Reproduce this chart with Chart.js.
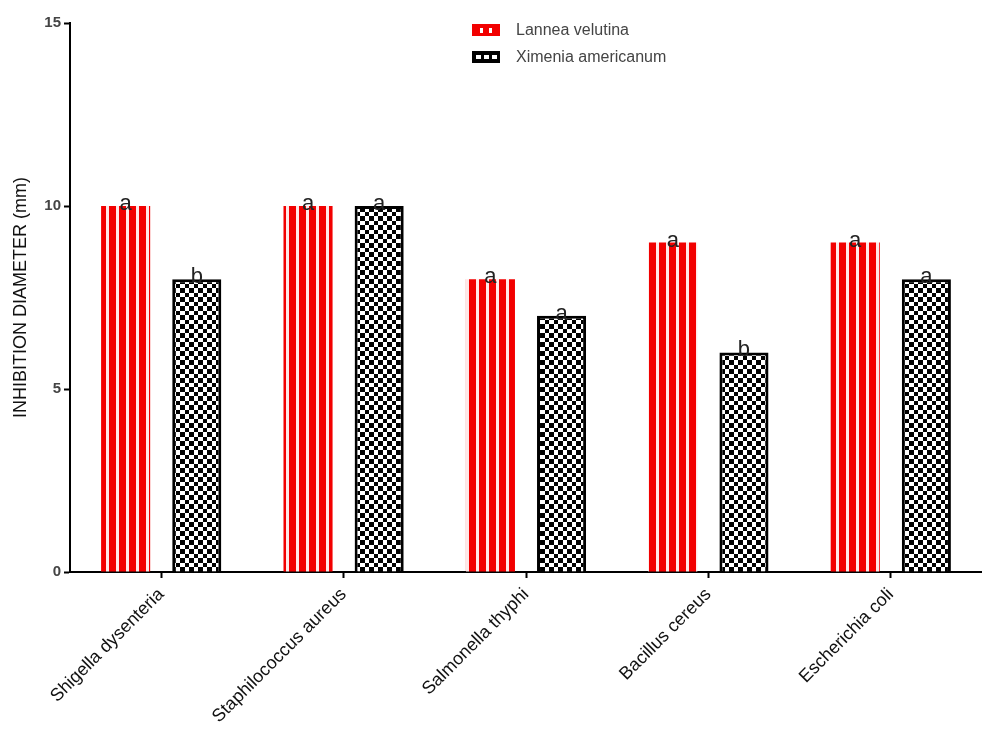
<!DOCTYPE html>
<html>
<head>
<meta charset="utf-8">
<script src="https://cdn.jsdelivr.net/npm/chart.js@4.4.0/dist/chart.umd.min.js"></script>
<style>
  html, body { margin: 0; padding: 0; background: #fff; overflow: hidden; }
  #wrap { position: relative; width: 982px; height: 734px; }
</style>
</head>
<body>
<div id="wrap"><canvas id="chart" width="982" height="734"></canvas></div>
<script>
// data
const categories = ['Shigella dysenteria', 'Staphilococcus aureus', 'Salmonella thyphi', 'Bacillus cereus', 'Escherichia coli'];
const lanneaValues = [10, 10, 8, 9, 9];
const ximeniaValues = [8, 10, 7, 6, 8];
const lanneaLetters = ['a', 'a', 'a', 'a', 'a'];
const ximeniaLetters = ['b', 'a', 'a', 'b', 'a'];
const yTicks = [0, 5, 10, 15];

// red bars with thin pale vertical stripes
function stripePattern() {
    const c = document.createElement('canvas');
    c.width = 10; c.height = 10;
    const g = c.getContext('2d');
    g.fillStyle = '#f20000';
    g.fillRect(0, 0, 10, 10);
    g.fillStyle = '#ffe8e8';
    g.fillRect(6, 0, 3, 10);
    return g.createPattern(c, 'repeat');
}

// black and white checker
function checkerPattern() {
    const c = document.createElement('canvas');
    c.width = 9; c.height = 9;
    const g = c.getContext('2d');
    g.fillStyle = '#fff';
    g.fillRect(0, 0, 9, 9);
    g.fillStyle = '#000';
    g.fillRect(0, 0, 5, 5);
    g.fillRect(5, 5, 4, 4);
    return g.createPattern(c, 'repeat');
}

const redFill = stripePattern();
const blackFill = checkerPattern();

//letters over the bars and the legend in the top middle
const extras = {
    id: 'extras',
    afterDatasetsDraw(chart) {
        const ctx = chart.ctx;
        ctx.save();
        ctx.fillStyle = '#222';
        ctx.font = '22px "Liberation Sans", Arial, sans-serif';
        ctx.textAlign = 'center';
        ctx.textBaseline = 'alphabetic';
        [lanneaLetters, ximeniaLetters].forEach(function(letters, di) {
            chart.getDatasetMeta(di).data.forEach(function(bar, i) {
                ctx.fillText(letters[i], bar.x, bar.y + 4);
            });
        });

        // legend
        ctx.textAlign = 'left';
        ctx.textBaseline = 'middle';
        ctx.font = '16px "Liberation Sans", Arial, sans-serif';
        ctx.fillStyle = '#f20000';
        ctx.fillRect(472, 24, 28, 12);
        ctx.fillStyle = '#fff';
        ctx.fillRect(480, 28, 3, 5);
        ctx.fillRect(489, 28, 3, 5);
        ctx.fillStyle = '#000';
        ctx.fillRect(472, 51, 28, 12);
        ctx.fillStyle = '#fff';
        ctx.fillRect(476, 55, 5, 4);
        ctx.fillRect(484, 55, 5, 4);
        ctx.fillRect(492, 55, 5, 4);
        ctx.fillStyle = '#444';
        ctx.fillText('Lannea velutina', 516, 31);
        ctx.fillText('Ximenia americanum', 516, 58);
        ctx.restore();
    }
};

const ctx = document.getElementById('chart');
const chart = new Chart(ctx, {
    type: 'bar',
    data: {
        labels: categories,
        datasets: [{
            label: 'Lannea velutina',
            data: lanneaValues,
            backgroundColor: redFill,
            borderWidth: 0,
            categoryPercentage: 0.78,
            barPercentage: 0.69
        }, {
            label: 'Ximenia americanum',
            data: ximeniaValues,
            backgroundColor: blackFill,
            borderColor: '#000',
            borderWidth: 3,
            categoryPercentage: 0.78,
            barPercentage: 0.69
        }]
    },
    options: {
        responsive: false,
        animation: false,
        layout: { padding: { top: 23, right: 0, bottom: 0, left: 0 } },
        plugins: {
            legend: { display: false },
            tooltip: { enabled: false }
        },
        scales: {
            x: {
                grid: {
                    offset: false,
                    drawOnChartArea: false,
                    tickLength: 6,
                    tickColor: '#000',
                    tickWidth: 2
                },
                border: { color: '#000', width: 2 },
                ticks: {
                    color: '#111',
                    font: { family: '"Liberation Sans", Arial, sans-serif', size: 18 },
                    minRotation: 45,
                    maxRotation: 45,
                    padding: 6
                },
                afterFit: function(scale) { scale.height = 162; }
            },
            y: {
                min: 0,
                max: 15,
                afterBuildTicks: function(scale) {
                    scale.ticks = yTicks.map(function(v) { return { value: v }; });
                },
                grid: {
                    drawOnChartArea: false,
                    tickLength: 6,
                    tickColor: '#000',
                    tickWidth: 2
                },
                border: { color: '#000', width: 2 },
                ticks: {
                    color: '#444',
                    font: { family: '"Liberation Sans", Arial, sans-serif', size: 15, weight: 'bold' },
                    padding: 3
                },
                title: {
                    display: true,
                    text: 'INHIBITION DIAMETER (mm)',
                    color: '#111',
                    font: { family: '"Liberation Sans", Arial, sans-serif', size: 18 },
                    padding: { top: 10, bottom: 4 }
                },
                afterFit: function(scale) { scale.width = 70; }
            }
        }
    },
    plugins: [extras]
});
</script>
</body>
</html>
